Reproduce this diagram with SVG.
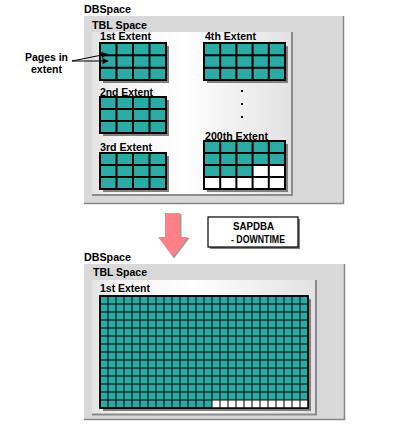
<svg xmlns="http://www.w3.org/2000/svg" width="407" height="431" viewBox="0 0 407 431">
<style>
text{font-family:"Liberation Sans",Arial,sans-serif;font-weight:bold;font-size:11px;fill:#000}
.outer{fill:#D9D9D9}
.oedge{fill:none;stroke:#888;stroke-width:1.5}
.inner{fill:url(#ig)}
.iedge{fill:none;stroke:#8C8C8C;stroke-width:2}
.shadow{fill:#808080}
.cell{fill:#2BAAA6;stroke:#000;stroke-width:2}
.gl{stroke:#000;stroke-width:2;fill:none}
.bg{fill:#2BAAA6;stroke:#000;stroke-width:1.5}
.bl{stroke:#000;stroke-width:1;fill:none}
.wc{fill:#fff}
.lead{stroke:#000;stroke-width:1;fill:none}
</style>
<defs>
<linearGradient id="ig" x1="0" y1="0" x2="1" y2="0">
<stop offset="0" stop-color="#E3E3E3"/>
<stop offset="0.12" stop-color="#F3F3F3"/>
<stop offset="0.45" stop-color="#FFFFFF"/>
<stop offset="1" stop-color="#E2E2E2"/>
</linearGradient>
<marker id="ah" viewBox="0 0 10 10" refX="9" refY="5" markerWidth="7" markerHeight="6" orient="auto" markerUnits="userSpaceOnUse">
<path d="M0,0L10,5L0,10z" fill="#000"/>
</marker>
</defs>

<!-- Top DBSpace -->
<g id="dbspace-top">
<text x="84" y="13" textLength="47" lengthAdjust="spacingAndGlyphs">DBSpace</text>
<rect class="outer" x="84" y="16" width="260" height="188"/>
<path class="oedge" d="M84,203.5H343.5V16"/>
</g>
<g id="tblspace-top">
<text x="92" y="29" textLength="55" lengthAdjust="spacingAndGlyphs">TBL Space</text>
<rect class="inner" x="92" y="32" width="201" height="164"/>
<path class="iedge" d="M92,195H292V32"/>
</g>

<g id="extent1">
<text x="100" y="40" textLength="51" lengthAdjust="spacingAndGlyphs">1st Extent</text>
<rect class="shadow" x="103" y="46" width="66" height="37"/>
<rect class="cell" x="100" y="43" width="66" height="37"/>
<path class="gl" d="M116.5,43V80M133,43V80M149.5,43V80M100,55.3H166M100,67.7H166"/>
</g>
<g id="extent2">
<text x="100" y="95.5" textLength="53" lengthAdjust="spacingAndGlyphs">2nd Extent</text>
<rect class="shadow" x="103" y="100" width="66" height="36"/>
<rect class="cell" x="100" y="97" width="66" height="36"/>
<path class="gl" d="M116.5,97V133M133,97V133M149.5,97V133M100,109H166M100,121H166"/>
</g>
<g id="extent3">
<text x="100" y="151" textLength="52" lengthAdjust="spacingAndGlyphs">3rd Extent</text>
<rect class="shadow" x="103" y="156" width="66" height="36"/>
<rect class="cell" x="100" y="153" width="66" height="36"/>
<path class="gl" d="M116.5,153V189M133,153V189M149.5,153V189M100,165H166M100,177H166"/>
</g>
<g id="extent4">
<text x="205" y="40" textLength="51" lengthAdjust="spacingAndGlyphs">4th Extent</text>
<rect class="shadow" x="207" y="46" width="81" height="37"/>
<rect class="cell" x="204" y="43" width="81" height="37"/>
<path class="gl" d="M220.2,43V80M236.4,43V80M252.6,43V80M268.8,43V80M204,55.3H285M204,67.7H285"/>
</g>
<g id="dots">
<rect x="241" y="90" width="2" height="2"/>
<rect x="241" y="103" width="2" height="2"/>
<rect x="241" y="116" width="2" height="2"/>
</g>
<g id="extent200">
<text x="205" y="139.5" textLength="63" lengthAdjust="spacingAndGlyphs">200th Extent</text>
<rect class="shadow" x="207" y="144" width="81" height="48"/>
<rect class="cell" x="204" y="141" width="81" height="48"/>
<rect class="wc" x="252.6" y="165" width="32.4" height="12"/>
<rect class="wc" x="204" y="177" width="81" height="12"/>
<rect x="204" y="141" width="81" height="48" fill="none" stroke="#000" stroke-width="2"/>
<path class="gl" d="M220.2,141V189M236.4,141V189M252.6,141V189M268.8,141V189M204,153H285M204,165H285M204,177H285"/>
</g>

<g id="pages-label">
<text x="46.5" y="61" text-anchor="middle" textLength="43" lengthAdjust="spacingAndGlyphs">Pages in</text>
<text x="46.5" y="72.5" text-anchor="middle" textLength="31" lengthAdjust="spacingAndGlyphs">extent</text>
</g>

<g id="connectors">
<line class="lead" x1="72" y1="61" x2="107" y2="54" marker-end="url(#ah)"/>
<line class="lead" x1="72" y1="61" x2="108" y2="61" marker-end="url(#ah)"/>
</g>

<g id="arrow">
<polygon points="166.5,214 181.5,214 181.5,238 189.5,238 174,258.5 160,238 166.5,238" fill="#9A9A9A"/>
<polygon points="165,213 180,213 180,237 188,237 173,257 158,237 165,237" fill="#FF8087"/>
</g>

<g id="sapdba">
<rect class="shadow" x="210" y="219" width="90" height="30"/>
<rect x="208" y="217" width="90" height="30" fill="#fff" stroke="#000" stroke-width="1.2"/>
<text x="253.5" y="230" text-anchor="middle" font-size="10" textLength="41" lengthAdjust="spacingAndGlyphs">SAPDBA</text>
<text x="258" y="243" text-anchor="middle" font-size="10" textLength="54" lengthAdjust="spacingAndGlyphs">- DOWNTIME</text>
</g>

<!-- Bottom DBSpace -->
<g id="dbspace-bottom">
<text x="84" y="261" textLength="47" lengthAdjust="spacingAndGlyphs">DBSpace</text>
<rect class="outer" x="84" y="264" width="261" height="156"/>
<path class="oedge" d="M84,419.5H344.5V264"/>
</g>
<g id="tblspace-bottom">
<text x="93" y="276" textLength="54" lengthAdjust="spacingAndGlyphs">TBL Space</text>
<rect class="inner" x="92" y="280" width="225" height="135"/>
<path class="iedge" d="M92,414.5H316V280"/>
</g>
<g id="extent-merged">
<text x="100" y="292" textLength="50" lengthAdjust="spacingAndGlyphs">1st Extent</text>
<rect class="shadow" x="103" y="299" width="208" height="112"/>
<rect class="bg" x="100" y="296" width="208" height="112"/>
<rect class="wc" x="212" y="400" width="96" height="8"/>
<path class="bl" d="M108,296V408M116,296V408M124,296V408M132,296V408M140,296V408M148,296V408M156,296V408M164,296V408M172,296V408M180,296V408M188,296V408M196,296V408M204,296V408M212,296V408M220,296V408M228,296V408M236,296V408M244,296V408M252,296V408M260,296V408M268,296V408M276,296V408M284,296V408M292,296V408M300,296V408M100,304H308M100,312H308M100,320H308M100,328H308M100,336H308M100,344H308M100,352H308M100,360H308M100,368H308M100,376H308M100,384H308M100,392H308M100,400H308"/>
<rect x="100" y="296" width="208" height="112" fill="none" stroke="#000" stroke-width="1.5"/>
</g>
</svg>
